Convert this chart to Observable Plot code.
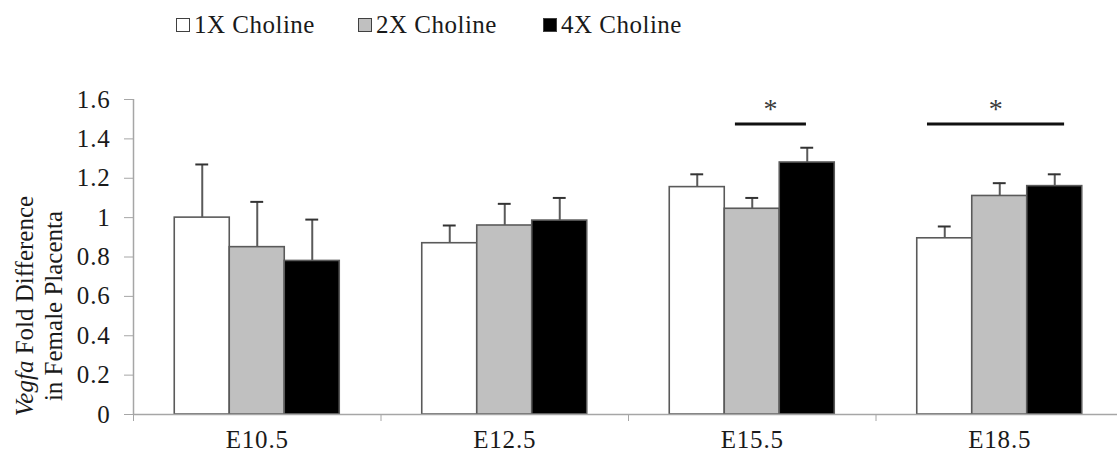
<!DOCTYPE html>
<html><head><meta charset="utf-8">
<script src="https://cdn.jsdelivr.net/npm/d3@7"></script>
<script src="https://cdn.jsdelivr.net/npm/@observablehq/plot@0.6"></script>
<style>
body{margin:0;background:#fff;font-family:"Liberation Serif","Times New Roman",serif;color:#1a1a1a;}
#legend{position:relative;height:50px;width:1117px;}
.item{position:absolute;top:10px;font-size:25px;line-height:30px;white-space:nowrap;letter-spacing:0.5px;}
.sw{display:inline-block;width:12px;height:12px;border:1px solid #404040;margin-right:4px;vertical-align:1px;}
</style></head><body>
<div id="legend"></div>
<div id="chart"></div>
<script>
// ---- data ----
const stages = ["E10.5", "E12.5", "E15.5", "E18.5"];
const seriesNames = ["1X Choline", "2X Choline", "4X Choline"];
const seriesFill = ["#ffffff", "#c0c0c0", "#000000"];
const mean1X = [1.00, 0.87, 1.155, 0.895];
const mean2X = [0.85, 0.96, 1.045, 1.11];
const mean4X = [0.78, 0.985, 1.28, 1.16];
const upper1X = [1.27, 0.96, 1.22, 0.955];
const upper2X = [1.08, 1.07, 1.10, 1.175];
const upper4X = [0.99, 1.10, 1.355, 1.22];
const yTicks = [0, 0.2, 0.4, 0.6, 0.8, 1.0, 1.2, 1.4, 1.6];
// significance bars (in stage units along x) and their height
const sigStart = [2.432, 3.208];
const sigEnd = [2.719, 3.762];
const sigY = [1.476, 1.476];
const sigLabel = ["*", "*"];
const sigTextY = [1.505, 1.505];

// ---- layout of groups ----
const groupOffset = 1 / 6, barW = 2 / 9, capHalf = 0.026;
const means = [mean1X, mean2X, mean4X];
const uppers = [upper1X, upper2X, upper4X];
const bars = [];
stages.forEach((s, i) => seriesNames.forEach((n, j) => {
  const x1 = i + groupOffset + j * barW;
  bars.push({stage: s, series: n, fill: seriesFill[j], value: means[j][i], upper: uppers[j][i], x1, x2: x1 + barW, xc: x1 + barW / 2});
}));
const sig = sigStart.map((a, k) => ({x1: a, x2: sigEnd[k], y: sigY[k], ty: sigTextY[k], xm: (a + sigEnd[k]) / 2, label: sigLabel[k]}));

// ---- legend ----
const legendLeft = [176, 358, 543];
const legend = document.getElementById("legend");
seriesNames.forEach((n, j) => {
  const d = document.createElement("div");
  d.className = "item";
  d.style.left = legendLeft[j] + "px";
  d.innerHTML = `<span class="sw" style="background:${seriesFill[j]}"></span>${n}`;
  legend.appendChild(d);
});

const axisGray = "#a6a6a6", edge = "#5a5a5a";
const chart = Plot.plot({
  width: 1117,
  height: 410,
  marginLeft: 133,
  marginRight: 0,
  marginTop: 49,
  marginBottom: 46,
  style: {fontFamily: "'Liberation Serif', 'Times New Roman', serif", fontSize: "25px", letterSpacing: "0.8px", color: "#1a1a1a", background: "#fff"},
  x: {domain: [0, stages.length], range: [133, 1123]},
  y: {domain: [0, 1.6]},
  marks: [
    Plot.rectY(bars, {x1: "x1", x2: "x2", y: "value", fill: "fill", stroke: edge, strokeWidth: 1.6}),
    Plot.ruleX(bars, {x: "xc", y1: "value", y2: "upper", stroke: edge, strokeWidth: 2}),
    Plot.ruleY(bars, {y: "upper", x1: d => d.xc - capHalf, x2: d => d.xc + capHalf, stroke: "#333", strokeWidth: 2}),
    Plot.ruleY(sig, {y: "y", x1: "x1", x2: "x2", stroke: "#111", strokeWidth: 3}),
    Plot.text(sig, {x: "xm", y: "ty", text: "label", lineAnchor: "bottom", fontSize: 28, fill: "#3a3a3a"}),
    Plot.ruleX([0], {y1: 0, y2: 1.6, stroke: axisGray, strokeWidth: 1.5}),
    Plot.ruleY([0], {stroke: axisGray, strokeWidth: 1.5}),
    Plot.axisY({ticks: yTicks, tickSize: 9, tickPadding: 14, stroke: axisGray, tickFormat: d => String(+d.toFixed(1)), label: null}),
    Plot.axisX({ticks: d3.range(stages.length + 1), tickSize: 7, stroke: axisGray, tickFormat: () => "", label: null}),
    Plot.axisX({ticks: stages.map((s, i) => i + 0.5), tickSize: 0, tickPadding: 16, tickFormat: d => stages[Math.floor(d)], label: null})
  ]
});
document.getElementById("chart").appendChild(chart);

// y-axis title (two lines, rotated, with italic gene name)
const svg = d3.select(chart);
const midY = 256;
const t1 = svg.append("text").attr("transform", `translate(33,${midY}) rotate(-90)`)
  .attr("text-anchor", "middle").attr("font-size", 25).attr("letter-spacing", 0).attr("fill", "#1a1a1a");
t1.append("tspan").attr("font-style", "italic").text("Vegfa");
t1.append("tspan").text(" Fold Difference");
svg.append("text").attr("transform", `translate(62,${midY}) rotate(-90)`)
  .attr("text-anchor", "middle").attr("font-size", 25).attr("letter-spacing", 0).attr("fill", "#1a1a1a").text("in Female Placenta");
</script>
</body></html>
